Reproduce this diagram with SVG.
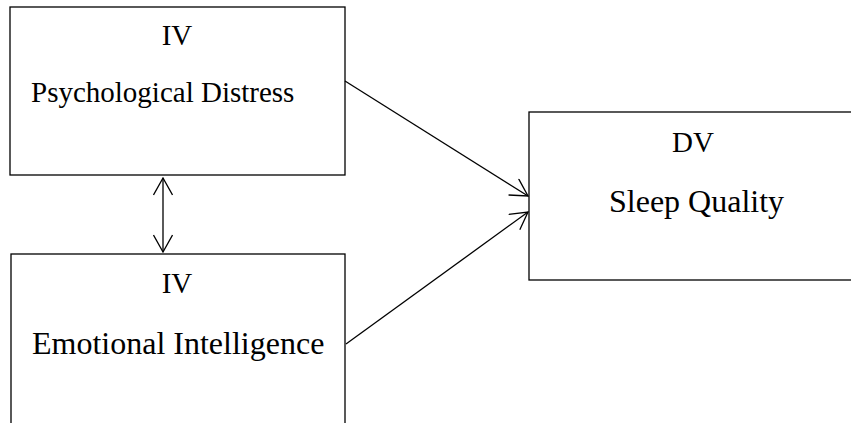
<svg xmlns="http://www.w3.org/2000/svg" width="851" height="423" viewBox="0 0 851 423">
<style>
.box{fill:#fff;stroke:#000;stroke-width:1.3}
.t{font-family:"Liberation Serif","Times New Roman",serif;font-size:29px;fill:#000}
.l{font-size:32px}
.c{fill:none;stroke:#000;stroke-width:1.3}
</style>
<defs>
<marker id="ah" viewBox="0 0 20 20" refX="19" refY="10" markerWidth="20" markerHeight="20" markerUnits="userSpaceOnUse" orient="auto-start-reverse">
<path d="M2,0.5 L19,10 L2,19.5" fill="none" stroke="#000" stroke-width="1.3"/>
</marker>
</defs>
<rect width="851" height="423" fill="#fff"/>
<g id="node-pd">
<rect class="box" x="10" y="7" width="335" height="168"/>
<text class="t" x="177" y="45" text-anchor="middle">IV</text>
<text class="t" x="31" y="102">Psychological Distress</text>
</g>
<g id="node-ei">
<rect class="box" x="11" y="254" width="334" height="200"/>
<text class="t" x="177" y="293" text-anchor="middle">IV</text>
<text class="t l" x="32" y="354">Emotional Intelligence</text>
</g>
<g id="node-sq">
<rect class="box" x="529" y="112" width="340" height="168"/>
<text class="t" x="693" y="152" text-anchor="middle">DV</text>
<text class="t l" x="609" y="212">Sleep Quality</text>
</g>
<g id="connectors">
<line class="c" x1="163" y1="178" x2="163" y2="252" marker-start="url(#ah)" marker-end="url(#ah)"/>
<line class="c" x1="345" y1="81" x2="528" y2="196" marker-end="url(#ah)"/>
<line class="c" x1="346" y1="344" x2="528" y2="212" marker-end="url(#ah)"/>
</g>
</svg>
